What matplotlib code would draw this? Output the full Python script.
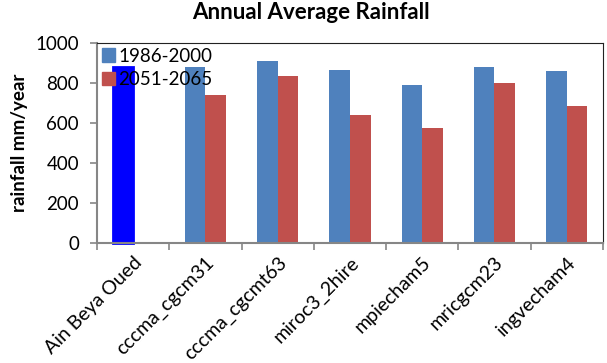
import numpy as np
import matplotlib.pyplot as plt
from matplotlib.patches import Patch

# modeller / stasjon og årlig nedbør (mm/år)
kategorier = ['Ain Beya Oued', 'cccma_cgcm31', 'cccma_cgcmt63', 'miroc3_2hire',
              'mpiecham5', 'mricgcm23', 'ingvecham4']
periode_1 = [880, 880, 908, 863, 788, 880, 858]   # 1986-2000
periode_2 = [0, 737, 833, 638, 572, 797, 683]     # 2051-2065
etiketter = ['1986-2000', '2051-2065']
y_ticks = [0, 200, 400, 600, 800, 1000]

blaa = '#4f81bd'
roed = '#c0504d'

plt.rcParams['font.family'] = ['Lato', 'DejaVu Sans']

fig = plt.figure(figsize=(6.07, 3.63), dpi=100)
ax = fig.add_axes([0.16, 0.3314, 0.833, 0.551])

x = np.arange(len(kategorier))
b = 1 / 3.5  # bredde på søylene (gap 150 %)

farger_1 = [blaa] * len(kategorier)
farger_1[0] = '#0000ff'  # observert serie i sterk blå
bars1 = ax.bar(x - b / 2, periode_1, b, color=farger_1, zorder=2)
bars1[0].set_edgecolor('#0000ff')
bars1[0].set_linewidth(2)
bars1[0].set_clip_on(False)
ax.bar(x[1:] + b / 2, periode_2[1:], b, color=roed, zorder=2)

ax.set_xlim(-0.5, len(kategorier) - 0.5)
ax.set_ylim(0, 1000)
ax.set_yticks(y_ticks)
ax.set_xticks(np.arange(len(kategorier) + 1) - 0.5)
ax.set_xticklabels([])
ax.set_xticks(x, minor=True)
ax.set_xticklabels(kategorier, minor=True, rotation=45, ha='right',
                   rotation_mode='anchor', fontsize=14)
ax.tick_params(axis='x', which='minor', length=0, pad=8)
ax.tick_params(axis='x', which='major', length=5, color='#868686', width=1.2)
ax.tick_params(axis='y', length=5, color='#868686', width=1.2, labelsize=13.5,
               pad=8)

for s in ['left', 'bottom']:
    ax.spines[s].set_color('#868686')
    ax.spines[s].set_linewidth(1.5)
for s in ['top', 'right']:
    ax.spines[s].set_color('#222222')
    ax.spines[s].set_linewidth(0.8)

ax.set_ylabel('rainfall mm/year', fontsize=13.5, fontweight='bold', labelpad=5)
fig.suptitle('Annual Average Rainfall', fontsize=16, fontweight='bold',
             x=0.512, y=0.995)

handles = [Patch(color=blaa), Patch(color=roed)]
ax.legend(handles, etiketter, loc='upper left', frameon=False, fontsize=13.5,
          handlelength=0.7, handleheight=0.7, handletextpad=0.2,
          labelspacing=0.35, borderaxespad=0.0, borderpad=0.1,
          bbox_to_anchor=(0.005, 0.985))

fig.savefig('out.png', dpi=100)
